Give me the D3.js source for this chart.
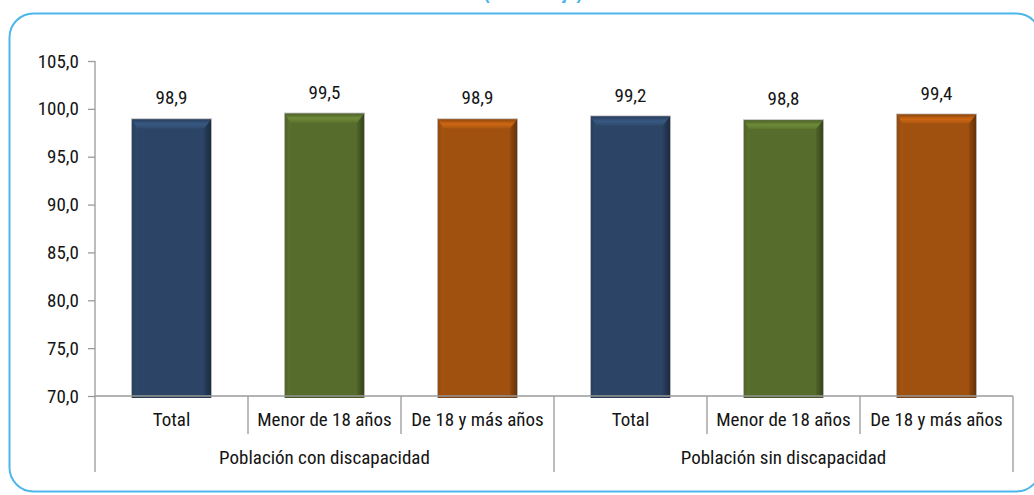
<!DOCTYPE html>
<html>
<head>
<meta charset="utf-8">
<script src="https://cdn.jsdelivr.net/npm/d3@7"></script>
<style>
  html, body { margin: 0; padding: 0; background: #fff; }
  svg { display: block; }
  .lbl { font-family: 'Liberation Sans Narrow', 'Arial Narrow', 'Roboto Condensed', sans-serif; fill: #141414; }
</style>
</head>
<body>
<svg id="chart" width="1034" height="495"></svg>
<script>
// Categories, grouped by population
const groups = ["Población con discapacidad", "Población sin discapacidad"];
const categories = ["Total", "Menor de 18 años", "De 18 y más años"];
const valuesCon = [98.9, 99.5, 98.9];
const valuesSin = [99.2, 98.8, 99.4];
const yTicks = [70, 75, 80, 85, 90, 95, 100, 105];
const barColors = ["#2c4566", "#566c2c", "#a0500f"];

const rows = [];
groups.forEach((g, gi) => {
  const vals = gi === 0 ? valuesCon : valuesSin;
  categories.forEach((c, ci) => rows.push({ key: gi + "-" + ci, group: g, gi, cat: c, ci, value: vals[ci] }));
});

const svg = d3.select("#chart");
const fmt = v => d3.format(".1f")(v).replace(".", ",");
const fontSize = "19px";

// Frame with rounded corners and the subtitle running off the top edge
svg.append("text")
  .attr("x", 533).attr("y", -0.5)
  .attr("text-anchor", "middle")
  .style("font-family", "'Liberation Sans', Arial, sans-serif")
  .style("font-weight", "bold").style("font-size", "17px")
  .attr("fill", "#4ab3e8")
  .text("(Porcentaje)");

svg.append("rect")
  .attr("x", 9.5).attr("y", 13.5)
  .attr("width", 1031).attr("height", 478)
  .attr("rx", 24).attr("ry", 24)
  .attr("fill", "none").attr("stroke", "#4db6ea").attr("stroke-width", 2);

const plotLeft = 95, plotRight = 1013, plotTop = 61, plotBottom = 396;

const x = d3.scaleBand().domain(rows.map(d => d.key))
  .range([plotLeft, plotRight]).paddingInner(0.484).paddingOuter(0.242);
const y = d3.scaleLinear().domain([70, 105]).range([plotBottom, plotTop]);

// Y axis
const yAxis = svg.append("g").attr("transform", `translate(${plotLeft},0)`)
  .call(d3.axisLeft(y).tickValues(yTicks).tickSize(7).tickPadding(9).tickFormat(fmt));
yAxis.select(".domain").remove();
yAxis.selectAll(".tick line").attr("stroke", "#9a9a9a").attr("stroke-width", 1.3);
yAxis.selectAll(".tick text").attr("class", "lbl").style("font-size", fontSize).attr("fill", "#141414");
svg.append("line").attr("x1", plotLeft).attr("x2", plotLeft).attr("y1", plotTop).attr("y2", 472)
  .attr("stroke", "#9a9a9a").attr("stroke-width", 1.3);

// Gradients for the bevelled bars
const defs = svg.append("defs");
barColors.forEach((c, i) => {
  const base = d3.color(c);
  const gTop = defs.append("linearGradient").attr("id", "top" + i)
    .attr("x1", 0).attr("y1", 0).attr("x2", 0).attr("y2", 1);
  gTop.append("stop").attr("offset", 0).attr("stop-color", base.darker(0.3));
  gTop.append("stop").attr("offset", 0.5).attr("stop-color", base.brighter(0.7));
  gTop.append("stop").attr("offset", 1).attr("stop-color", base.brighter(0.2));
  const gRight = defs.append("linearGradient").attr("id", "right" + i)
    .attr("x1", 0).attr("y1", 0).attr("x2", 1).attr("y2", 0);
  gRight.append("stop").attr("offset", 0).attr("stop-color", base.darker(0.2));
  gRight.append("stop").attr("offset", 1).attr("stop-color", base.darker(1.3));
  const gLeft = defs.append("linearGradient").attr("id", "left" + i)
    .attr("x1", 0).attr("y1", 0).attr("x2", 1).attr("y2", 0);
  gLeft.append("stop").attr("offset", 0).attr("stop-color", base.darker(0.2));
  gLeft.append("stop").attr("offset", 1).attr("stop-color", base.brighter(0.15));
});

const bev = 9;
const bars = svg.append("g").selectAll("g").data(rows).join("g");
bars.each(function(d) {
  const g = d3.select(this);
  const x0 = x(d.key), w = x.bandwidth(), y0 = y(d.value), y1 = y(70) + 2;
  g.append("rect").attr("x", x0 - 1).attr("y", y0 - 1).attr("width", w + 2).attr("height", y1 - y0 + 1)
    .attr("fill", "#b5b5b5");
  g.append("rect").attr("x", x0).attr("y", y0).attr("width", w).attr("height", y1 - y0)
    .attr("fill", barColors[d.ci]);
  g.append("polygon")
    .attr("points", [[x0, y0], [x0 + bev * 0.6, y0 + bev], [x0 + bev * 0.6, y1 - 2], [x0, y1]].join(" "))
    .attr("fill", `url(#left${d.ci})`);
  g.append("polygon")
    .attr("points", [[x0 + w, y0], [x0 + w - bev * 0.8, y0 + bev], [x0 + w - bev * 0.8, y1 - 2], [x0 + w, y1]].join(" "))
    .attr("fill", `url(#right${d.ci})`);
  g.append("polygon")
    .attr("points", [[x0, y0], [x0 + w, y0], [x0 + w - bev * 0.8, y0 + bev], [x0 + bev * 0.6, y0 + bev]].join(" "))
    .attr("fill", `url(#top${d.ci})`);
  g.append("rect").attr("x", x0).attr("y", y1 - 3).attr("width", w).attr("height", 3)
    .attr("fill", d3.color(barColors[d.ci]).darker(0.6));
});

// Value labels
svg.append("g").selectAll("text").data(rows).join("text")
  .attr("class", "lbl")
  .attr("x", d => x(d.key) + x.bandwidth() / 2)
  .attr("y", d => y(d.value) - 15)
  .attr("text-anchor", "middle")
  .style("font-size", fontSize)
  .text(d => fmt(d.value));

// X axis with two-level category labels
const step = x.step();
svg.append("line").attr("x1", plotLeft).attr("x2", plotRight).attr("y1", plotBottom).attr("y2", plotBottom)
  .attr("stroke", "#9a9a9a").attr("stroke-width", 1.3);
const bounds = d3.range(rows.length + 1).map(i => x(rows[0].key) - x.step() * x.paddingOuter() + i * step);
bounds.forEach((bx, i) => {
  if (i === 0) return;
  const groupEdge = i % categories.length === 0;
  svg.append("line").attr("x1", bx).attr("x2", bx).attr("y1", plotBottom).attr("y2", groupEdge ? 472 : 434)
    .attr("stroke", "#9a9a9a").attr("stroke-width", 1.3);
});
svg.append("g").selectAll("text").data(rows).join("text")
  .attr("class", "lbl")
  .attr("x", d => x(d.key) + x.bandwidth() / 2)
  .attr("y", 426)
  .attr("text-anchor", "middle")
  .style("font-size", fontSize)
  .text(d => d.cat);
svg.append("g").selectAll("text").data(groups).join("text")
  .attr("class", "lbl")
  .attr("x", (d, i) => (bounds[i * 3] + bounds[i * 3 + 3]) / 2)
  .attr("y", 464)
  .attr("text-anchor", "middle")
  .style("font-size", fontSize)
  .text(d => d);
</script>
</body>
</html>
